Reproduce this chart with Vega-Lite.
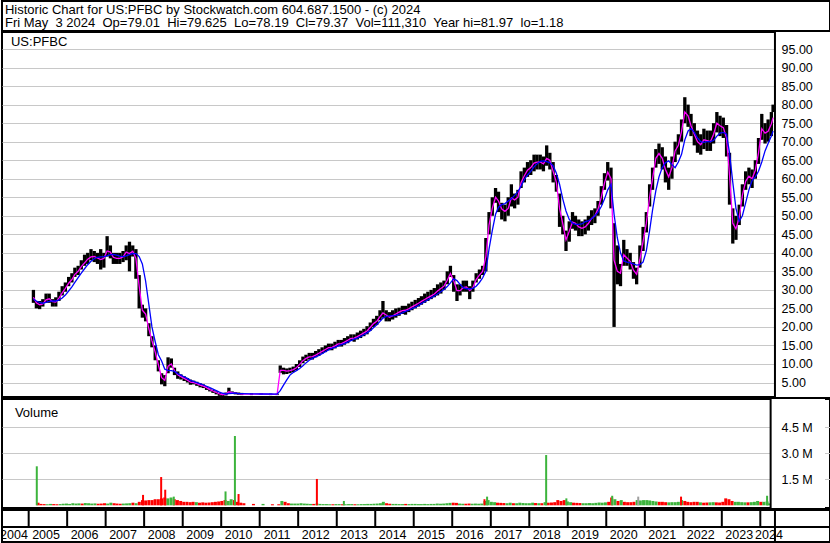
{
"$schema": "https://vega.github.io/schema/vega-lite/v6.json",
"padding": 0,
"background": "white",
"spacing": -2,
"config": {"view": {"stroke": "#000", "strokeWidth": 2}, "font": "Liberation Sans", "axis": {"gridColor": "#c8c8c8", "gridWidth": 1, "labelFont": "Liberation Sans", "labelFontSize": 12.5, "labelColor": "#000"}},
"resolve": {"scale": {"x": "independent", "y": "independent", "color": "independent"}},
"datasets": {
"px": [
{"d":"2005-02-15","h":30,"l":26.5,"m":28,"b":27.5,"v":0.15,"s":"d"},
{"d":"2005-03-15","h":27,"l":25,"m":26.5,"b":27,"v":0.08,"s":"d"},
{"d":"2005-04-15","h":27,"l":24.8,"m":26,"b":26.6,"v":0.07,"s":"d"},
{"d":"2005-05-15","h":27.5,"l":25.5,"m":26.2,"b":26.4,"v":0.06,"s":"u"},
{"d":"2005-06-15","h":29,"l":26.5,"m":27.3,"b":26.6,"v":0.08,"s":"u"},
{"d":"2005-07-15","h":29,"l":26.5,"m":27.6,"b":26.9,"v":0.07,"s":"d"},
{"d":"2005-08-15","h":27.5,"l":25.5,"m":26.8,"b":27,"v":0.06,"s":"d"},
{"d":"2005-09-15","h":28,"l":25.5,"m":26.7,"b":27,"v":0.07,"s":"u"},
{"d":"2005-10-15","h":29.5,"l":27,"m":27.8,"b":27.2,"v":0.09,"s":"u"},
{"d":"2005-11-15","h":31,"l":28.5,"m":29.2,"b":27.8,"v":0.1,"s":"u"},
{"d":"2005-12-15","h":32,"l":29.5,"m":30.4,"b":28.6,"v":0.08,"s":"u"},
{"d":"2006-01-15","h":33.5,"l":31,"m":31.8,"b":29.7,"v":0.12,"s":"u"},
{"d":"2006-02-15","h":34.5,"l":32,"m":32.8,"b":30.8,"v":0.1,"s":"u"},
{"d":"2006-03-15","h":36,"l":33.5,"m":34.2,"b":32,"v":0.11,"s":"u"},
{"d":"2006-04-15","h":36.5,"l":34,"m":35,"b":33.3,"v":0.1,"s":"d"},
{"d":"2006-05-15","h":38,"l":35.5,"m":36.3,"b":34.5,"v":0.13,"s":"u"},
{"d":"2006-06-15","h":39.5,"l":36.5,"m":37.3,"b":35.7,"v":0.12,"s":"u"},
{"d":"2006-07-15","h":40,"l":37,"m":38.3,"b":36.8,"v":0.1,"s":"u"},
{"d":"2006-08-15","h":41,"l":38,"m":38.9,"b":37.7,"v":0.11,"s":"u"},
{"d":"2006-09-15","h":40.5,"l":37.5,"m":39,"b":38.4,"v":0.09,"s":"d"},
{"d":"2006-10-15","h":40,"l":37,"m":38.6,"b":38.8,"v":0.1,"s":"d"},
{"d":"2006-11-15","h":41,"l":35.5,"m":38.2,"b":38.9,"v":0.12,"s":"d"},
{"d":"2006-12-15","h":40,"l":36,"m":38.5,"b":39,"v":0.1,"s":"u"},
{"d":"2007-01-15","h":44.5,"l":39,"m":40.5,"b":39.2,"v":0.15,"s":"u"},
{"d":"2007-02-15","h":42,"l":38.5,"m":40.2,"b":39.5,"v":0.12,"s":"d"},
{"d":"2007-03-15","h":40,"l":37,"m":38.8,"b":39.6,"v":0.1,"s":"d"},
{"d":"2007-04-15","h":40,"l":37,"m":38.5,"b":39.4,"v":0.09,"s":"d"},
{"d":"2007-05-15","h":40,"l":37,"m":38.5,"b":39.1,"v":0.1,"s":"u"},
{"d":"2007-06-15","h":40.5,"l":37.5,"m":38.9,"b":39,"v":0.11,"s":"u"},
{"d":"2007-07-15","h":42,"l":38,"m":40.2,"b":39.2,"v":0.12,"s":"u"},
{"d":"2007-08-15","h":43,"l":35,"m":39.8,"b":39.5,"v":0.15,"s":"d"},
{"d":"2007-09-15","h":42,"l":39,"m":40.4,"b":39.8,"v":0.12,"s":"u"},
{"d":"2007-10-15","h":41,"l":33,"m":38.5,"b":39.8,"v":0.2,"s":"d"},
{"d":"2007-11-15","h":34,"l":25,"m":31,"b":39,"v":0.3,"s":"d"},
{"d":"2007-12-15","h":26,"l":22.5,"m":24.5,"b":37,"v":0.28,"s":"d"},
{"d":"2008-01-15","h":25,"l":21.5,"m":23.5,"b":32.4,"v":0.3,"s":"d"},
{"d":"2008-02-15","h":21,"l":17.5,"m":19.5,"b":26,"v":0.3,"s":"d"},
{"d":"2008-03-15","h":17.5,"l":14.5,"m":16.3,"b":20,"v":0.35,"s":"d"},
{"d":"2008-04-15","h":15,"l":11,"m":13.2,"b":16,"v":0.35,"s":"d"},
{"d":"2008-05-15","h":11,"l":8,"m":9.8,"b":12.5,"v":0.4,"s":"d"},
{"d":"2008-06-15","h":7.5,"l":4.5,"m":6.3,"b":10.8,"v":0.45,"s":"d"},
{"d":"2008-07-15","h":7,"l":4,"m":5.6,"b":8.6,"v":0.4,"s":"u"},
{"d":"2008-08-15","h":11.8,"l":7.5,"m":9.4,"b":8.3,"v":0.45,"s":"u"},
{"d":"2008-09-15","h":11.5,"l":9,"m":10,"b":8.2,"v":0.35,"s":"d"},
{"d":"2008-10-15","h":9,"l":7,"m":8.2,"b":8,"v":0.3,"s":"d"},
{"d":"2008-11-15","h":8,"l":6,"m":7.1,"b":7.4,"v":0.25,"s":"d"},
{"d":"2008-12-15","h":7.2,"l":5.8,"m":6.6,"b":7,"v":0.2,"s":"d"},
{"d":"2009-01-15","h":6.7,"l":5.4,"m":6.1,"b":6.5,"v":0.2,"s":"d"},
{"d":"2009-02-15","h":6.2,"l":5,"m":5.6,"b":6.1,"v":0.18,"s":"d"},
{"d":"2009-03-15","h":5.8,"l":4.4,"m":5.1,"b":5.6,"v":0.2,"s":"d"},
{"d":"2009-04-15","h":5.5,"l":4.5,"m":5,"b":5.3,"v":0.18,"s":"u"},
{"d":"2009-05-15","h":5.2,"l":4.1,"m":4.7,"b":5,"v":0.15,"s":"d"},
{"d":"2009-06-15","h":4.8,"l":3.7,"m":4.3,"b":4.7,"v":0.17,"s":"d"},
{"d":"2009-07-15","h":4.5,"l":3.5,"m":4,"b":4.4,"v":0.15,"s":"d"},
{"d":"2009-08-15","h":4,"l":3,"m":3.6,"b":4,"v":0.16,"s":"d"},
{"d":"2009-09-15","h":3.4,"l":2.6,"m":3.1,"b":3.6,"v":0.18,"s":"d"},
{"d":"2009-10-15","h":3,"l":2.2,"m":2.7,"b":3.2,"v":0.2,"s":"d"},
{"d":"2009-11-15","h":2.6,"l":1.8,"m":2.3,"b":2.8,"v":0.22,"s":"d"},
{"d":"2009-12-15","h":2.2,"l":1.4,"m":1.9,"b":2.4,"v":0.25,"s":"d"},
{"d":"2010-01-15","h":2,"l":1.3,"m":1.7,"b":2.1,"v":0.3,"s":"d"},
{"d":"2010-02-15","h":2.3,"l":1.5,"m":1.9,"b":1.9,"v":0.25,"s":"u"},
{"d":"2010-03-15","h":3.6,"l":2,"m":2.5,"b":2,"v":0.35,"s":"u"},
{"d":"2010-04-15","h":2.6,"l":1.9,"m":2.3,"b":2.1,"v":0.3,"s":"d"},
{"d":"2010-05-15","h":2.4,"l":1.8,"m":2.1,"b":2.1,"v":0.2,"s":"d"},
{"d":"2010-06-15","h":2.3,"l":1.7,"m":2,"b":2,"v":0.15,"s":"d"},
{"d":"2010-07-15","h":2.2,"l":1.6,"m":1.9,"b":2,"v":0.12,"s":"d"},
{"d":"2010-10-15","h":2.1,"l":1.6,"m":1.85,"b":1.95,"v":0.08,"s":"d"},
{"d":"2011-01-15","h":2.1,"l":1.7,"m":1.9,"b":1.9,"v":0.08,"s":"u"},
{"d":"2011-04-15","h":2,"l":1.6,"m":1.8,"b":1.9,"v":0.06,"s":"d"},
{"d":"2011-06-15","h":2,"l":1.6,"m":1.8,"b":1.85,"v":0.06,"s":"d"},
{"d":"2011-07-15","h":9.6,"l":7.6,"m":8.3,"b":2.8,"v":0.25,"s":"u"},
{"d":"2011-08-15","h":9,"l":7.2,"m":8.3,"b":4.3,"v":0.2,"s":"d"},
{"d":"2011-09-15","h":8.8,"l":7.3,"m":8.1,"b":5.7,"v":0.12,"s":"d"},
{"d":"2011-10-15","h":9,"l":7.5,"m":8.2,"b":7,"v":0.1,"s":"u"},
{"d":"2011-11-15","h":9.3,"l":7.8,"m":8.5,"b":7.7,"v":0.1,"s":"u"},
{"d":"2011-12-15","h":10,"l":8.3,"m":9,"b":8.2,"v":0.1,"s":"u"},
{"d":"2012-01-15","h":11,"l":9.2,"m":9.9,"b":8.8,"v":0.12,"s":"u"},
{"d":"2012-02-15","h":12,"l":10.2,"m":10.9,"b":9.5,"v":0.1,"s":"u"},
{"d":"2012-03-15","h":12.5,"l":10.8,"m":11.5,"b":10.3,"v":0.09,"s":"u"},
{"d":"2012-04-15","h":13,"l":11.2,"m":11.9,"b":11,"v":0.08,"s":"u"},
{"d":"2012-05-15","h":13,"l":11.2,"m":12,"b":11.5,"v":0.08,"s":"d"},
{"d":"2012-06-15","h":13.5,"l":11.8,"m":12.4,"b":11.9,"v":0.1,"s":"u"},
{"d":"2012-07-15","h":14,"l":12.2,"m":12.9,"b":12.3,"v":0.08,"s":"u"},
{"d":"2012-08-15","h":14.5,"l":12.8,"m":13.4,"b":12.8,"v":0.07,"s":"u"},
{"d":"2012-09-15","h":15,"l":13.2,"m":13.9,"b":13.3,"v":0.07,"s":"u"},
{"d":"2012-10-15","h":15.5,"l":13.7,"m":14.4,"b":13.8,"v":0.06,"s":"u"},
{"d":"2012-11-15","h":15.5,"l":13.7,"m":14.5,"b":14.2,"v":0.06,"s":"d"},
{"d":"2012-12-15","h":16,"l":14.2,"m":14.9,"b":14.5,"v":0.07,"s":"u"},
{"d":"2013-01-15","h":16.5,"l":14.7,"m":15.4,"b":14.9,"v":0.07,"s":"u"},
{"d":"2013-02-15","h":16.5,"l":14.7,"m":15.5,"b":15.2,"v":0.06,"s":"d"},
{"d":"2013-03-15","h":17,"l":15.2,"m":15.9,"b":15.5,"v":0.06,"s":"u"},
{"d":"2013-04-15","h":17.5,"l":15.6,"m":16.4,"b":15.9,"v":0.07,"s":"u"},
{"d":"2013-05-15","h":18,"l":16.2,"m":16.9,"b":16.3,"v":0.07,"s":"u"},
{"d":"2013-06-15","h":18,"l":16,"m":17,"b":16.7,"v":0.06,"s":"d"},
{"d":"2013-07-15","h":18.5,"l":16.6,"m":17.4,"b":17,"v":0.06,"s":"u"},
{"d":"2013-08-15","h":19,"l":17,"m":17.9,"b":17.4,"v":0.07,"s":"u"},
{"d":"2013-09-15","h":19.5,"l":17.5,"m":18.4,"b":17.9,"v":0.07,"s":"u"},
{"d":"2013-10-15","h":20.2,"l":18,"m":18.9,"b":18.4,"v":0.08,"s":"u"},
{"d":"2013-11-15","h":21.2,"l":19,"m":19.9,"b":19,"v":0.08,"s":"u"},
{"d":"2013-12-15","h":22.2,"l":20,"m":20.9,"b":19.8,"v":0.09,"s":"u"},
{"d":"2014-01-15","h":23,"l":20.5,"m":21.5,"b":20.6,"v":0.1,"s":"u"},
{"d":"2014-02-15","h":24.5,"l":21.8,"m":22.8,"b":21.5,"v":0.12,"s":"u"},
{"d":"2014-03-15","h":27,"l":22.5,"m":23.8,"b":22.4,"v":0.2,"s":"u"},
{"d":"2014-04-15","h":24.5,"l":21.5,"m":23.2,"b":22.8,"v":0.12,"s":"d"},
{"d":"2014-05-15","h":24,"l":21.5,"m":22.6,"b":23,"v":0.09,"s":"d"},
{"d":"2014-06-15","h":24.5,"l":22,"m":23,"b":23,"v":0.08,"s":"u"},
{"d":"2014-07-15","h":25,"l":22.5,"m":23.5,"b":23.1,"v":0.08,"s":"u"},
{"d":"2014-08-15","h":25.2,"l":23,"m":24,"b":23.4,"v":0.07,"s":"u"},
{"d":"2014-09-15","h":25.7,"l":23.5,"m":24.4,"b":23.8,"v":0.07,"s":"u"},
{"d":"2014-10-15","h":25.7,"l":23.3,"m":24.5,"b":24.2,"v":0.08,"s":"d"},
{"d":"2014-11-15","h":26.3,"l":24,"m":24.9,"b":24.5,"v":0.07,"s":"u"},
{"d":"2014-12-15","h":26.8,"l":24.5,"m":25.4,"b":24.9,"v":0.08,"s":"u"},
{"d":"2015-01-15","h":27.3,"l":25,"m":25.9,"b":25.3,"v":0.08,"s":"u"},
{"d":"2015-02-15","h":27.8,"l":25.5,"m":26.4,"b":25.8,"v":0.07,"s":"u"},
{"d":"2015-03-15","h":28.3,"l":26,"m":26.9,"b":26.3,"v":0.07,"s":"u"},
{"d":"2015-04-15","h":29,"l":26.5,"m":27.4,"b":26.8,"v":0.08,"s":"u"},
{"d":"2015-05-15","h":29.5,"l":27,"m":27.9,"b":27.3,"v":0.07,"s":"u"},
{"d":"2015-06-15","h":30,"l":27.5,"m":28.4,"b":27.8,"v":0.08,"s":"u"},
{"d":"2015-07-15","h":30.5,"l":28,"m":28.9,"b":28.3,"v":0.08,"s":"u"},
{"d":"2015-08-15","h":31.5,"l":28.5,"m":29.7,"b":28.9,"v":0.1,"s":"u"},
{"d":"2015-09-15","h":32,"l":29,"m":30.4,"b":29.5,"v":0.09,"s":"u"},
{"d":"2015-10-15","h":32.5,"l":30,"m":31,"b":30.1,"v":0.1,"s":"u"},
{"d":"2015-11-15","h":35,"l":31.5,"m":32.6,"b":30.9,"v":0.12,"s":"u"},
{"d":"2015-12-15","h":36.5,"l":33.5,"m":34.4,"b":31.9,"v":0.14,"s":"u"},
{"d":"2016-01-15","h":34,"l":29.5,"m":32.5,"b":33,"v":0.15,"s":"d"},
{"d":"2016-02-15","h":31.5,"l":27,"m":29.8,"b":32.5,"v":0.14,"s":"d"},
{"d":"2016-03-15","h":31.5,"l":28.5,"m":29.8,"b":31.5,"v":0.1,"s":"u"},
{"d":"2016-04-15","h":32.5,"l":29.5,"m":30.6,"b":30.6,"v":0.09,"s":"u"},
{"d":"2016-05-15","h":32.5,"l":29.5,"m":30.8,"b":30.3,"v":0.09,"s":"d"},
{"d":"2016-06-15","h":31,"l":27.5,"m":29.8,"b":30.3,"v":0.1,"s":"d"},
{"d":"2016-07-15","h":32.5,"l":29.5,"m":30.6,"b":30.4,"v":0.09,"s":"u"},
{"d":"2016-08-15","h":34.5,"l":32,"m":32.8,"b":31,"v":0.1,"s":"u"},
{"d":"2016-09-15","h":35.5,"l":33,"m":34,"b":32,"v":0.09,"s":"u"},
{"d":"2016-10-15","h":36.5,"l":34,"m":35,"b":33.2,"v":0.1,"s":"u"},
{"d":"2016-11-15","h":44,"l":35,"m":39,"b":35,"v":0.25,"s":"u"},
{"d":"2016-12-15","h":51,"l":45,"m":47.5,"b":41,"v":0.3,"s":"u"},
{"d":"2017-01-15","h":55,"l":50,"m":52,"b":46,"v":0.2,"s":"u"},
{"d":"2017-02-15","h":57.5,"l":53.5,"m":55,"b":50.4,"v":0.18,"s":"u"},
{"d":"2017-03-15","h":56.5,"l":51,"m":54,"b":52.3,"v":0.15,"s":"d"},
{"d":"2017-04-15","h":53.5,"l":49,"m":51.8,"b":53,"v":0.14,"s":"d"},
{"d":"2017-05-15","h":53,"l":48.5,"m":51.2,"b":53.3,"v":0.13,"s":"d"},
{"d":"2017-06-15","h":55,"l":50,"m":52,"b":54,"v":0.12,"s":"u"},
{"d":"2017-07-15","h":58.5,"l":52.5,"m":54.8,"b":54.6,"v":0.15,"s":"u"},
{"d":"2017-08-15","h":56,"l":52,"m":54.3,"b":55.5,"v":0.12,"s":"d"},
{"d":"2017-09-15","h":57,"l":53,"m":55,"b":56.5,"v":0.12,"s":"u"},
{"d":"2017-10-15","h":62,"l":57.5,"m":59,"b":58,"v":0.15,"s":"u"},
{"d":"2017-11-15","h":63,"l":59,"m":60.8,"b":59.8,"v":0.13,"s":"u"},
{"d":"2017-12-15","h":64.5,"l":60.5,"m":62.3,"b":61,"v":0.12,"s":"u"},
{"d":"2018-01-15","h":65,"l":61,"m":63,"b":62,"v":0.12,"s":"u"},
{"d":"2018-02-15","h":66.5,"l":62,"m":64.2,"b":63.2,"v":0.15,"s":"u"},
{"d":"2018-03-15","h":66.5,"l":62.5,"m":64.5,"b":64,"v":0.13,"s":"d"},
{"d":"2018-04-15","h":66.5,"l":62.5,"m":64.5,"b":64.7,"v":0.12,"s":"u"},
{"d":"2018-05-15","h":66,"l":62,"m":64,"b":64.8,"v":0.12,"s":"d"},
{"d":"2018-06-15","h":69,"l":63.5,"m":65.5,"b":64.6,"v":0.18,"s":"u"},
{"d":"2018-07-15","h":67,"l":62.5,"m":65,"b":64.3,"v":0.15,"s":"d"},
{"d":"2018-08-15","h":64.5,"l":59,"m":62,"b":63.5,"v":0.16,"s":"d"},
{"d":"2018-09-15","h":61,"l":56.5,"m":59,"b":61.5,"v":0.18,"s":"d"},
{"d":"2018-10-15","h":56,"l":47,"m":52,"b":58.5,"v":0.3,"s":"d"},
{"d":"2018-11-15","h":50,"l":45,"m":47.8,"b":54.5,"v":0.25,"s":"d"},
{"d":"2018-12-15","h":46,"l":40.5,"m":43.5,"b":51.3,"v":0.3,"s":"d"},
{"d":"2019-01-15","h":48.5,"l":43,"m":45.8,"b":49,"v":0.22,"s":"u"},
{"d":"2019-02-15","h":51,"l":46.5,"m":48.3,"b":48,"v":0.18,"s":"u"},
{"d":"2019-03-15","h":50,"l":46,"m":48,"b":47.7,"v":0.15,"s":"d"},
{"d":"2019-04-15","h":49,"l":44.5,"m":47,"b":47.7,"v":0.14,"s":"d"},
{"d":"2019-05-15","h":48.5,"l":44.5,"m":46.6,"b":47.8,"v":0.13,"s":"d"},
{"d":"2019-06-15","h":49,"l":45,"m":47,"b":48.4,"v":0.12,"s":"u"},
{"d":"2019-07-15","h":50,"l":46,"m":47.9,"b":48.6,"v":0.12,"s":"u"},
{"d":"2019-08-15","h":51.5,"l":47.5,"m":49.3,"b":49.2,"v":0.13,"s":"u"},
{"d":"2019-09-15","h":52,"l":48,"m":50,"b":50,"v":0.12,"s":"u"},
{"d":"2019-10-15","h":54,"l":50,"m":51.8,"b":51,"v":0.14,"s":"u"},
{"d":"2019-11-15","h":58,"l":53,"m":55,"b":52.5,"v":0.16,"s":"u"},
{"d":"2019-12-15","h":61.5,"l":57,"m":58.8,"b":54.5,"v":0.15,"s":"u"},
{"d":"2020-01-15","h":64.5,"l":59.5,"m":61.8,"b":57,"v":0.17,"s":"u"},
{"d":"2020-02-15","h":63,"l":52,"m":60,"b":58.5,"v":0.2,"s":"d"},
{"d":"2020-03-15","h":48,"l":20,"m":38,"b":50.4,"v":0.45,"s":"d"},
{"d":"2020-04-15","h":42,"l":31.5,"m":35,"b":44,"v":0.35,"s":"u"},
{"d":"2020-05-15","h":37,"l":31,"m":34.5,"b":40,"v":0.25,"s":"d"},
{"d":"2020-06-15","h":43.5,"l":36.5,"m":39.5,"b":37.8,"v":0.3,"s":"u"},
{"d":"2020-07-15","h":41,"l":36.5,"m":38.6,"b":37.5,"v":0.2,"s":"d"},
{"d":"2020-08-15","h":40,"l":35.5,"m":37.7,"b":37.3,"v":0.18,"s":"d"},
{"d":"2020-09-15","h":37.5,"l":33,"m":35.3,"b":37,"v":0.18,"s":"d"},
{"d":"2020-10-15","h":36,"l":31.5,"m":34.2,"b":36.7,"v":0.2,"s":"d"},
{"d":"2020-11-15","h":42,"l":36,"m":38.2,"b":36.8,"v":0.3,"s":"u"},
{"d":"2020-12-15","h":47,"l":40.5,"m":43,"b":37.5,"v":0.28,"s":"u"},
{"d":"2021-01-15","h":51,"l":45.5,"m":48,"b":40.5,"v":0.3,"s":"u"},
{"d":"2021-02-15","h":58.5,"l":52.5,"m":55,"b":46,"v":0.3,"s":"u"},
{"d":"2021-03-15","h":63,"l":57,"m":60,"b":51.5,"v":0.28,"s":"u"},
{"d":"2021-04-15","h":68,"l":63,"m":65.5,"b":56.7,"v":0.25,"s":"u"},
{"d":"2021-05-15","h":69.5,"l":64,"m":66.8,"b":60.5,"v":0.22,"s":"u"},
{"d":"2021-06-15","h":68.5,"l":62.5,"m":65.5,"b":63,"v":0.2,"s":"d"},
{"d":"2021-07-15","h":66,"l":59,"m":62.5,"b":64.3,"v":0.2,"s":"d"},
{"d":"2021-08-15","h":63,"l":57,"m":60.5,"b":64.8,"v":0.18,"s":"d"},
{"d":"2021-09-15","h":66,"l":60,"m":63,"b":63.8,"v":0.17,"s":"u"},
{"d":"2021-10-15","h":70,"l":64.5,"m":67.5,"b":63,"v":0.18,"s":"u"},
{"d":"2021-11-15","h":72,"l":66.5,"m":69,"b":64.5,"v":0.18,"s":"u"},
{"d":"2021-12-15","h":76,"l":70,"m":72.8,"b":66.6,"v":0.2,"s":"u"},
{"d":"2022-01-15","h":82,"l":75,"m":78,"b":70.5,"v":0.3,"s":"u"},
{"d":"2022-02-15","h":80,"l":74,"m":77,"b":72.9,"v":0.25,"s":"d"},
{"d":"2022-03-15","h":77.5,"l":71.5,"m":74.3,"b":73.5,"v":0.2,"s":"d"},
{"d":"2022-04-15","h":75,"l":69,"m":72,"b":72.5,"v":0.18,"s":"d"},
{"d":"2022-05-15","h":73,"l":67,"m":70,"b":71,"v":0.2,"s":"d"},
{"d":"2022-06-15","h":72,"l":66.5,"m":69.2,"b":70,"v":0.2,"s":"d"},
{"d":"2022-07-15","h":73.5,"l":68,"m":70.5,"b":69.8,"v":0.17,"s":"u"},
{"d":"2022-08-15","h":73,"l":67.5,"m":70.3,"b":70,"v":0.15,"s":"d"},
{"d":"2022-09-15","h":73,"l":67.5,"m":70,"b":70,"v":0.16,"s":"d"},
{"d":"2022-10-15","h":75,"l":69.5,"m":72,"b":70.3,"v":0.17,"s":"u"},
{"d":"2022-11-15","h":78,"l":72.5,"m":75,"b":71.5,"v":0.18,"s":"u"},
{"d":"2022-12-15","h":77,"l":71.5,"m":74.3,"b":72.3,"v":0.17,"s":"d"},
{"d":"2023-01-15","h":76.5,"l":71,"m":73.8,"b":72.5,"v":0.16,"s":"d"},
{"d":"2023-02-15","h":74.5,"l":66,"m":71,"b":72,"v":0.2,"s":"d"},
{"d":"2023-03-15","h":67,"l":53,"m":61,"b":67,"v":0.4,"s":"d"},
{"d":"2023-04-15","h":52,"l":42.5,"m":48,"b":59,"v":0.35,"s":"d"},
{"d":"2023-05-15","h":50,"l":43.5,"m":46.5,"b":52,"v":0.25,"s":"d"},
{"d":"2023-06-15","h":53,"l":47.5,"m":49.5,"b":48.5,"v":0.2,"s":"u"},
{"d":"2023-07-15","h":58.5,"l":52.5,"m":55.5,"b":50,"v":0.2,"s":"u"},
{"d":"2023-08-15","h":62,"l":57,"m":59.3,"b":53.5,"v":0.18,"s":"u"},
{"d":"2023-09-15","h":63,"l":58.5,"m":60.7,"b":57,"v":0.17,"s":"u"},
{"d":"2023-10-15","h":62.5,"l":57.5,"m":60,"b":59.5,"v":0.17,"s":"d"},
{"d":"2023-11-15","h":65,"l":60,"m":62.3,"b":60.5,"v":0.18,"s":"u"},
{"d":"2023-12-15","h":71,"l":64,"m":67,"b":62,"v":0.2,"s":"u"},
{"d":"2024-01-15","h":77.5,"l":70.5,"m":73.5,"b":64.5,"v":0.25,"s":"u"},
{"d":"2024-02-15","h":75,"l":69.5,"m":72.3,"b":67.5,"v":0.2,"s":"d"},
{"d":"2024-03-15","h":76,"l":70,"m":72.8,"b":69.5,"v":0.2,"s":"u"},
{"d":"2024-04-15","h":78,"l":71.5,"m":74.8,"b":71.5,"v":0.22,"s":"u"},
{"d":"2024-05-01","h":80,"l":78,"m":76.5,"b":72.9,"v":0.11,"s":"u"}
],
"spk": [
{"d":"2005-02-03","v":2.25,"s":"u"},
{"d":"2007-11-20","v":0.6,"s":"d"},
{"d":"2008-05-12","v":1.63,"s":"d"},
{"d":"2008-06-20","v":0.9,"s":"d"},
{"d":"2008-09-10","v":0.5,"s":"u"},
{"d":"2010-01-20","v":0.8,"s":"u"},
{"d":"2010-04-20","v":4.0,"s":"u"},
{"d":"2010-05-25","v":0.65,"s":"d"},
{"d":"2012-06-15","v":1.52,"s":"d"},
{"d":"2013-03-01","v":0.25,"s":"u"},
{"d":"2016-11-10","v":0.35,"s":"d"},
{"d":"2016-12-05","v":0.5,"s":"u"},
{"d":"2018-06-25","v":2.9,"s":"u"},
{"d":"2019-01-05","v":0.4,"s":"u"},
{"d":"2020-03-20","v":0.55,"s":"u"},
{"d":"2020-11-25","v":0.5,"s":"f"},
{"d":"2022-01-10","v":0.5,"s":"d"},
{"d":"2024-04-15","v":0.55,"s":"u"}
],
"yb": [
{"g":"2005-01-01"},{"g":"2006-01-01"},{"g":"2007-01-01"},{"g":"2008-01-01"},{"g":"2009-01-01"},
{"g":"2010-01-01"},{"g":"2011-01-01"},{"g":"2012-01-01"},{"g":"2013-01-01"},{"g":"2014-01-01"},
{"g":"2015-01-01"},{"g":"2016-01-01"},{"g":"2017-01-01"},{"g":"2018-01-01"},{"g":"2019-01-01"},
{"g":"2020-01-01"},{"g":"2021-01-01"},{"g":"2022-01-01"},{"g":"2023-01-01"},{"g":"2024-01-01"}
],
"yl": [
{"t":"2004","ld":"2004-08-15"},{"t":"2005","ld":"2005-06-15"},{"t":"2006","ld":"2006-06-15"},
{"t":"2007","ld":"2007-06-15"},{"t":"2008","ld":"2008-06-15"},{"t":"2009","ld":"2009-06-15"},
{"t":"2010","ld":"2010-06-15"},{"t":"2011","ld":"2011-06-15"},{"t":"2012","ld":"2012-06-15"},
{"t":"2013","ld":"2013-06-15"},{"t":"2014","ld":"2014-06-15"},{"t":"2015","ld":"2015-06-15"},
{"t":"2016","ld":"2016-06-15"},{"t":"2017","ld":"2017-06-15"},{"t":"2018","ld":"2018-06-15"},
{"t":"2019","ld":"2019-06-15"},{"t":"2020","ld":"2020-06-15"},{"t":"2021","ld":"2021-06-15"},
{"t":"2022","ld":"2022-06-15"},{"t":"2023","ld":"2023-06-15"},{"t":"2024","ld":"2024-03-23"}
]
},
"vconcat": [
{
"width": 828, "height": 30,
"layer": [
{"data": {"values": [{"t": "Historic Chart for US:PFBC by Stockwatch.com 604.687.1500 - (c) 2024"}]},
 "mark": {"type": "text", "align": "left", "baseline": "alphabetic", "fontSize": 13, "font": "Liberation Sans", "color": "#000"},
 "encoding": {
  "x": {"datum": {"year":2004,"month":5,"date":21,"utc":true}, "type": "temporal", "scale": {"type": "utc", "domain": [{"year":2004,"month":4,"date":23,"utc":true},{"year":2025,"month":10,"date":23,"utc":true}]}, "axis": null},
  "y": {"datum": 17, "type": "quantitative", "scale": {"domain": [0, 30], "nice": false}, "axis": null},
  "text": {"field": "t"}}},
{"data": {"values": [{"t": "Fri May\u00a0 3 2024\u00a0 Op=79.01\u00a0 Hi=79.625\u00a0 Lo=78.19\u00a0 Cl=79.37\u00a0 Vol=111,310\u00a0 Year hi=81.97\u00a0 lo=1.18"}]},
 "mark": {"type": "text", "align": "left", "baseline": "alphabetic", "fontSize": 13, "font": "Liberation Sans", "color": "#000"},
 "encoding": {
  "x": {"datum": {"year":2004,"month":5,"date":21,"utc":true}, "type": "temporal", "axis": null},
  "y": {"datum": 4, "type": "quantitative", "axis": null},
  "text": {"field": "t"}}}
]
},
{
"width": 828, "height": 365,
"resolve": {"axis": {"y": "independent"}},
"layer": [
{"data": {"name": "px"}, "mark": {"type": "rule", "strokeWidth": 3.3, "color": "#000"},
 "encoding": {
  "x": {"field": "d", "type": "temporal", "scale": {"type": "utc", "domain": [{"year":2004,"month":4,"date":23,"utc":true},{"year":2025,"month":10,"date":23,"utc":true}]},
        "axis": {"values": [{"year":2005,"month":1,"date":1,"utc":true},{"year":2006,"month":1,"date":1,"utc":true},{"year":2007,"month":1,"date":1,"utc":true},{"year":2008,"month":1,"date":1,"utc":true},{"year":2009,"month":1,"date":1,"utc":true},{"year":2010,"month":1,"date":1,"utc":true},{"year":2011,"month":1,"date":1,"utc":true},{"year":2012,"month":1,"date":1,"utc":true},{"year":2013,"month":1,"date":1,"utc":true},{"year":2014,"month":1,"date":1,"utc":true},{"year":2015,"month":1,"date":1,"utc":true},{"year":2016,"month":1,"date":1,"utc":true},{"year":2017,"month":1,"date":1,"utc":true},{"year":2018,"month":1,"date":1,"utc":true},{"year":2019,"month":1,"date":1,"utc":true},{"year":2020,"month":1,"date":1,"utc":true},{"year":2021,"month":1,"date":1,"utc":true},{"year":2022,"month":1,"date":1,"utc":true},{"year":2023,"month":1,"date":1,"utc":true},{"year":2024,"month":1,"date":1,"utc":true}],
                 "grid": true, "labels": false, "ticks": false, "domain": false, "title": null}},
  "y": {"field": "l", "type": "quantitative", "scale": {"domain": [1.09, 99.6], "nice": false, "zero": false},
        "axis": {"values": [5,10,15,20,25,30,35,40,45,50,55,60,65,70,75,80,85,90,95], "grid": true, "labels": false, "ticks": false, "domain": false, "title": null}},
  "y2": {"field": "h"}
 }},
{"data": {"values": [{}]}, "mark": {"type": "rect", "color": "white"},
 "encoding": {"x": {"datum": {"year":2024,"month":5,"date":19,"utc":true}, "type": "temporal", "axis": null}, "x2": {"datum": {"year":2025,"month":10,"date":23,"utc":true}}}},
{"data": {"name": "px"}, "mark": {"type": "line", "color": "#ff00ff", "strokeWidth": 1.3},
 "encoding": {"x": {"field": "d", "type": "temporal", "axis": null}, "y": {"field": "m", "type": "quantitative", "axis": null}}},
{"data": {"name": "px"}, "mark": {"type": "line", "color": "#0000ff", "strokeWidth": 1.3},
 "encoding": {"x": {"field": "d", "type": "temporal", "axis": null},
  "y": {"field": "b", "type": "quantitative", "axis": {"orient": "right", "offset": -55, "values": [5,10,15,20,25,30,35,40,45,50,55,60,65,70,75,80,85,90,95], "format": ".2f", "grid": false, "ticks": false, "domain": false, "labelPadding": 6, "title": null, "zindex": 1, "labelOverlap": false}}}},
{"data": {"values": [{}]}, "mark": {"type": "rule", "color": "#000", "strokeWidth": 2},
 "encoding": {"x": {"datum": {"year":2024,"month":5,"date":19,"utc":true}, "type": "temporal", "axis": null}}},
{"data": {"values": [{"t": "US:PFBC"}]}, "mark": {"type": "text", "align": "left", "baseline": "alphabetic", "fontSize": 13, "font": "Liberation Sans", "color": "#000"},
 "encoding": {"x": {"datum": {"year":2004,"month":7,"date":17,"utc":true}, "type": "temporal", "axis": null}, "y": {"datum": 95.8, "type": "quantitative", "axis": null}, "text": {"field": "t"}}}
]
},
{
"width": 828, "height": 109,
"resolve": {"axis": {"y": "independent"}},
"layer": [
{"data": {"name": "px"}, "mark": {"type": "bar", "size": 3},
 "encoding": {
  "x": {"field": "d", "type": "temporal", "scale": {"type": "utc", "domain": [{"year":2004,"month":4,"date":23,"utc":true},{"year":2025,"month":10,"date":23,"utc":true}]},
        "axis": {"values": [{"year":2005,"month":1,"date":1,"utc":true},{"year":2006,"month":1,"date":1,"utc":true},{"year":2007,"month":1,"date":1,"utc":true},{"year":2008,"month":1,"date":1,"utc":true},{"year":2009,"month":1,"date":1,"utc":true},{"year":2010,"month":1,"date":1,"utc":true},{"year":2011,"month":1,"date":1,"utc":true},{"year":2012,"month":1,"date":1,"utc":true},{"year":2013,"month":1,"date":1,"utc":true},{"year":2014,"month":1,"date":1,"utc":true},{"year":2015,"month":1,"date":1,"utc":true},{"year":2016,"month":1,"date":1,"utc":true},{"year":2017,"month":1,"date":1,"utc":true},{"year":2018,"month":1,"date":1,"utc":true},{"year":2019,"month":1,"date":1,"utc":true},{"year":2020,"month":1,"date":1,"utc":true},{"year":2021,"month":1,"date":1,"utc":true},{"year":2022,"month":1,"date":1,"utc":true},{"year":2023,"month":1,"date":1,"utc":true},{"year":2024,"month":1,"date":1,"utc":true}],
                 "grid": true, "labels": false, "ticks": false, "domain": false, "title": null}},
  "y": {"field": "v", "type": "quantitative", "scale": {"domain": [-0.156, 6.133], "nice": false},
        "axis": {"values": [1.5, 3, 4.5], "grid": true, "labels": false, "ticks": false, "domain": false, "title": null}},
  "color": {"field": "s", "type": "nominal", "scale": {"domain": ["u", "d", "f"], "range": ["#3cb43c", "#ff0000", "#a0a0a0"]}, "legend": null}
 }},
{"data": {"name": "spk"}, "mark": {"type": "bar", "size": 2},
 "encoding": {
  "x": {"field": "d", "type": "temporal", "axis": null},
  "y": {"field": "v", "type": "quantitative", "axis": {"orient": "right", "offset": -55, "values": [1.5, 3, 4.5], "labelExpr": "format(datum.value, '.1f') + ' M'", "grid": false, "ticks": false, "domain": false, "labelPadding": 6, "title": null, "zindex": 1}},
  "color": {"field": "s", "type": "nominal", "legend": null}
 }},
{"data": {"values": [{}]}, "mark": {"type": "rect", "color": "white"},
 "encoding": {"x": {"datum": {"year":2024,"month":5,"date":19,"utc":true}, "type": "temporal", "axis": null}, "x2": {"datum": {"year":2025,"month":10,"date":23,"utc":true}}}},
{"data": {"values": [{}]}, "mark": {"type": "rule", "color": "#000", "strokeWidth": 2},
 "encoding": {"x": {"datum": {"year":2024,"month":5,"date":19,"utc":true}, "type": "temporal", "axis": null}}},
{"data": {"values": [{"t": "Volume"}]}, "mark": {"type": "text", "align": "left", "baseline": "alphabetic", "fontSize": 13, "font": "Liberation Sans", "color": "#000"},
 "encoding": {"x": {"datum": {"year":2004,"month":7,"date":8,"utc":true}, "type": "temporal", "axis": null}, "y": {"datum": 5.09, "type": "quantitative", "axis": null}, "text": {"field": "t"}}}
]
},
{
"width": 828, "height": 32,
"layer": [
{"data": {"name": "yb"}, "mark": {"type": "rule", "color": "#000", "strokeWidth": 2},
 "encoding": {
  "x": {"field": "g", "type": "temporal", "scale": {"type": "utc", "domain": [{"year":2004,"month":4,"date":23,"utc":true},{"year":2025,"month":10,"date":23,"utc":true}]}, "axis": null},
  "y": {"datum": 15, "type": "quantitative", "scale": {"domain": [0, 32], "nice": false}, "axis": null},
  "y2": {"datum": 32}
 }},
{"data": {"values": [{}]}, "mark": {"type": "rule", "color": "#000", "strokeWidth": 2},
 "encoding": {"y": {"datum": 15, "type": "quantitative", "axis": null}}},
{"data": {"name": "yl"}, "mark": {"type": "text", "fontSize": 12.5, "font": "Liberation Sans", "color": "#000", "baseline": "middle", "align": "center", "clip": true},
 "encoding": {"x": {"field": "ld", "type": "temporal", "axis": null}, "y": {"datum": 7, "type": "quantitative", "axis": null}, "text": {"field": "t"}}},
{"data": {"values": [{}]}, "mark": {"type": "rule", "color": "#000", "strokeWidth": 2},
 "encoding": {"x": {"datum": {"year":2024,"month":5,"date":19,"utc":true}, "type": "temporal", "axis": null}}}
]
}
]
}
